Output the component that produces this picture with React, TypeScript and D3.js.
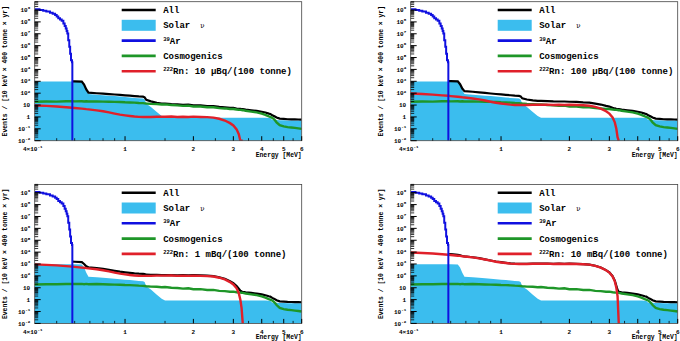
import React from "react";
import * as d3 from "d3";

// ---------- data ----------
const energyGrid = [
  0.4, 0.45, 0.5, 0.55, 0.586, 0.6, 0.645, 0.66, 0.675, 0.69, 0.75, 0.8, 0.85, 0.9, 0.95, 1.0, 1.05, 1.1, 1.15, 1.2,
  1.22, 1.24, 1.3, 1.38, 1.45, 1.5, 1.6, 1.7, 1.8, 1.9, 2.0, 2.15, 2.3, 2.45, 2.6, 2.75, 2.9, 3.0, 3.1, 3.17,
  3.22, 3.26, 3.3, 3.4, 3.6, 3.8, 4.0, 4.15, 4.3, 4.36, 4.45, 4.55, 4.65, 4.8, 5.0, 5.2, 5.4, 5.6, 5.8, 6.0,
];
const solarRate = [
  950, 950, 950, 950, 950, 950, 920, 500, 180, 85, 75, 68, 62, 57, 52, 48, 44, 40, 37, 35,
  30, 13, 7, 2.6, 1.2, 0.85, 0.85, 0.85, 0.85, 0.85, 0.85, 0.85, 0.85, 0.85, 0.85, 0.85, 0.85, 0.85, 0.85, 0.85,
  0.85, 0.85, 0.85, 0.85, 0.85, 0.85, 0.85, 0.85, 0.82, 0.8, 0.55, 0.55, 0.55, 0.52, 0.52, 0.5, 0.5, 0.5, 0.5, 0.5,
];
const cosmoRate = [
  19, 20, 19.5, 21, 21, 20.5, 21, 20, 21, 20, 20.5, 19.5, 19, 18.5, 18, 17, 16.5, 16, 15, 14.5,
  14, 13.5, 12.5, 12, 11, 11.5, 10, 9.5, 8.5, 9, 7.5, 7.6, 6.5, 6.6, 5.5, 5.2, 4.6, 4.7, 4.2, 4.0,
  3.9, 3.8, 3.7, 3.3, 2.8, 2.4, 1.9, 1.5, 1.1, 1.0, 0.85, 0.6, 0.35, 0.2, 0.16, 0.14, 0.13, 0.12, 0.11, 0.1,
];
// 222Rn spectrum at 10 mBq/(100 tonne)
const rnRate10mBq = [
  9300, 8500, 7600, 6600, 6000, 5700, 5000, 4800, 4500, 4300, 3600, 3000, 2400, 1900, 1550, 1350, 1200, 1080, 1020, 1000,
  1000, 1000, 1000, 1050, 1050, 1050, 1080, 1000, 1050, 1000, 1060, 1000, 960, 880, 700, 500, 300, 190, 90, 35,
  10, 2, 0.0001, 0, 0, 0, 0, 0, 0, 0, 0, 0, 0, 0, 0, 0, 0, 0, 0, 0,
];
const arEnergy = [
  0.4, 0.42, 0.436, 0.45, 0.467, 0.48, 0.492, 0.5, 0.508, 0.517, 0.526, 0.535, 0.542, 0.548, 0.553, 0.557, 0.562,
  0.568, 0.573, 0.578, 0.584, 0.586,
];
const arRate = [
  1.15e9, 1.0e9, 8.7e8, 7.5e8, 5.9e8, 4.8e8, 3.8e8, 2.9e8, 2.0e8, 1.6e8, 1.25e8, 7.5e7, 4.5e7, 2.8e7, 1.7e7, 1.07e7,
  2.9e6, 8e5, 2.1e5, 5.8e4, 4e4, 0.0001,
];
const rnActivityLabels = ["10 μBq", "100 μBq", "1 mBq", "10 mBq"];
const rnActivityScale = [0.001, 0.01, 0.1, 1];
const yTickExps = [-2, -1, 0, 1, 2, 3, 4, 5, 6, 7, 8, 9];
const xMajorTicks = [1, 2, 3, 4, 5, 6];
const xMinorTicks = [0.5, 0.6, 0.7, 0.8, 0.9, 1.5, 2.5, 3.5, 4.5, 5.5];
const legendNames = ["All", "Solar", "Ar", "Cosmogenics", "Rn"];

// ---------- style ----------
const FONT = "'Liberation Mono', 'DejaVu Sans Mono', monospace";
const C_SOLAR = "#3bbdee";
const C_AR = "#1010e0";
const C_COSMO = "#1e9628";
const C_RN = "#e0202a";
const C_ALL = "#000000";
const W = 267;
const H = 139;
const PANELS = [
  { left: 34.7, top: 1.7 },
  { left: 410.7, top: 1.7 },
  { left: 34.7, top: 184.4 },
  { left: 410.7, top: 184.4 },
];
const Y_MIN = 0.01;
const Y_MAX = Math.pow(10, 9.7);

function Panel({ idx }: { idx: number }) {
  const { left, top } = PANELS[idx];
  const scale = rnActivityScale[idx];
  const x = d3.scaleLog().domain([0.4, 6]).range([0, W]);
  const y = d3.scaleLog().domain([Y_MIN, Y_MAX]).range([H, 0]).clamp(true);

  const grid = energyGrid.map((e, i) => ({
    e,
    solar: solarRate[i],
    cosmo: cosmoRate[i],
    rn: rnRate10mBq[i] * scale,
  }));
  const arEnd = arEnergy[arEnergy.length - 1];

  const solarArea = d3
    .area<any>()
    .x((d) => x(d.e))
    .y0(H)
    .y1((d) => y(d.solar))(grid);
  const line = d3
    .line<any>()
    .defined((d) => d.v > 0)
    .x((d) => x(d.e))
    .y((d) => y(Math.max(d.v, 1e-6)));
  const cosmoPath = line(grid.map((d) => ({ e: d.e, v: d.cosmo })));
  const rnPath = line(grid.map((d) => ({ e: d.e, v: d.rn })));
  const allPath = line(
    grid.filter((d) => d.e >= arEnd).map((d) => ({ e: d.e, v: d.solar + d.cosmo + (d.rn > 0.001 ? d.rn : 0) }))
  );
  const arPath = d3
    .line<any>()
    .curve(d3.curveStepAfter)
    .x((d) => x(d.e))
    .y((d) => y(Math.max(d.v, 1e-6)))(arEnergy.map((e, i) => ({ e, v: arRate[i] })));

  const clipId = `clip${idx}`;
  const yMinor: number[] = [];
  for (let p = -2; p <= 9; p++) for (let k = 2; k <= 9; k++) if (k * Math.pow(10, p) < Y_MAX) yMinor.push(k * Math.pow(10, p));

  const lx1 = 87;
  const lx2 = 121;
  const tx = 128.5;
  const rowY = (i: number) => 8.3 + 15.3 * i;

  return (
    <g transform={`translate(${left},${top})`} fontFamily={FONT} fontWeight="bold">
      <defs>
        <clipPath id={clipId}>
          <rect x={0} y={0} width={W} height={H} />
        </clipPath>
      </defs>
      <g clipPath={`url(#${clipId})`}>
        <path d={solarArea || ""} fill={C_SOLAR} />
        <path d={allPath || ""} fill="none" stroke={C_ALL} strokeWidth={2.2} />
        <path d={cosmoPath || ""} fill="none" stroke={C_COSMO} strokeWidth={2.4} />
        <path d={rnPath || ""} fill="none" stroke={C_RN} strokeWidth={2.4} />
        <path d={arPath || ""} fill="none" stroke={C_AR} strokeWidth={2} />
      </g>
      <rect x={0} y={0} width={W} height={H} fill="none" stroke="#444" strokeWidth={0.8} />
      {/* y ticks */}
      {yTickExps.map((p) => (
        <line key={`ym${p}`} x1={0} x2={6} y1={y(Math.pow(10, p))} y2={y(Math.pow(10, p))} stroke="#000" strokeWidth={1} />
      ))}
      {yMinor.map((v, i) => (
        <line key={`yn${i}`} x1={0} x2={3.5} y1={y(v)} y2={y(v)} stroke="#000" strokeWidth={0.8} />
      ))}
      {yTickExps.map((p) => (
        <text key={`yl${p}`} x={-4.5} y={y(Math.pow(10, p)) + 2.2} textAnchor="end" fontSize={6} fill="#000">
          {p === 0 ? "1" : p === 1 ? "10" : (
            <>
              <tspan>10</tspan>
              <tspan dy={-2.8} fontSize={4.2}>{String(p)}</tspan>
            </>
          )}
        </text>
      ))}
      {/* x ticks */}
      {xMajorTicks.map((v) => (
        <line key={`xm${v}`} x1={x(v)} x2={x(v)} y1={H} y2={H - 4.5} stroke="#000" strokeWidth={1} />
      ))}
      {xMinorTicks.map((v) => (
        <line key={`xn${v}`} x1={x(v)} x2={x(v)} y1={H} y2={H - 2.5} stroke="#000" strokeWidth={0.8} />
      ))}
      {xMajorTicks.map((v) => (
        <text key={`xl${v}`} x={x(v)} y={H + 10.5} textAnchor="middle" fontSize={6} fill="#000">
          {String(v)}
        </text>
      ))}
      <text x={x(0.4) - 2} y={H + 10.5} textAnchor="middle" fontSize={6} fill="#000">
        <tspan>4×10</tspan>
        <tspan dy={-2.8} fontSize={4.2}>-1</tspan>
      </text>
      <text x={W} y={H + 16} textAnchor="end" fontSize={6.4} fill="#000">
        Energy [MeV]
      </text>
      <text
        transform="rotate(-90)"
        x={-H / 2}
        y={-27.5}
        textAnchor="middle"
        fontSize={6.4}
        fill="#000"
      >
        Events / [10 keV × 400 tonne × yr]
      </text>
      {/* legend */}
      <line x1={lx1} x2={lx2} y1={rowY(0)} y2={rowY(0)} stroke={C_ALL} strokeWidth={2.6} />
      <rect x={lx1} y={rowY(1) - 5.5} width={lx2 - lx1} height={11} fill={C_SOLAR} />
      <line x1={lx1} x2={lx2} y1={rowY(2)} y2={rowY(2)} stroke={C_AR} strokeWidth={2.6} />
      <line x1={lx1} x2={lx2} y1={rowY(3)} y2={rowY(3)} stroke={C_COSMO} strokeWidth={2.6} />
      <line x1={lx1} x2={lx2} y1={rowY(4)} y2={rowY(4)} stroke={C_RN} strokeWidth={2.6} />
      <text x={tx} y={rowY(0) + 3} fontSize={9} fill="#000">{legendNames[0]}</text>
      <text x={tx} y={rowY(1) + 3} fontSize={9} fill="#000">
        {legendNames[1]}
      </text>
      <text x={tx + 37} y={rowY(1) + 3} fontSize={7} fontWeight="normal" fontFamily="'DejaVu Serif', serif" fill="#000">
        ν
      </text>
      <text x={tx} y={rowY(2) + 3} fontSize={9} fill="#000">
        <tspan fontSize={5.5} dy={-3}>39</tspan>
        <tspan dy={3}>{legendNames[2]}</tspan>
      </text>
      <text x={tx} y={rowY(3) + 3} fontSize={9} fill="#000">{legendNames[3]}</text>
      <text x={tx} y={rowY(4) + 3} fontSize={9} fill="#000">
        <tspan fontSize={5.5} dy={-3}>222</tspan>
        <tspan dy={3}>{`${legendNames[4]}: ${rnActivityLabels[idx]}/(100 tonne)`}</tspan>
      </text>
    </g>
  );
}

export default function App() {
  return (
    <svg
      width={680}
      height={341}
      viewBox="0 0 680 341"
      style={{ position: "absolute", left: 0, top: 0, background: "#fff" }}
    >
      <rect x={0} y={0} width={680} height={341} fill="#fff" />
      {PANELS.map((_, i) => (
        <Panel key={i} idx={i} />
      ))}
    </svg>
  );
}
